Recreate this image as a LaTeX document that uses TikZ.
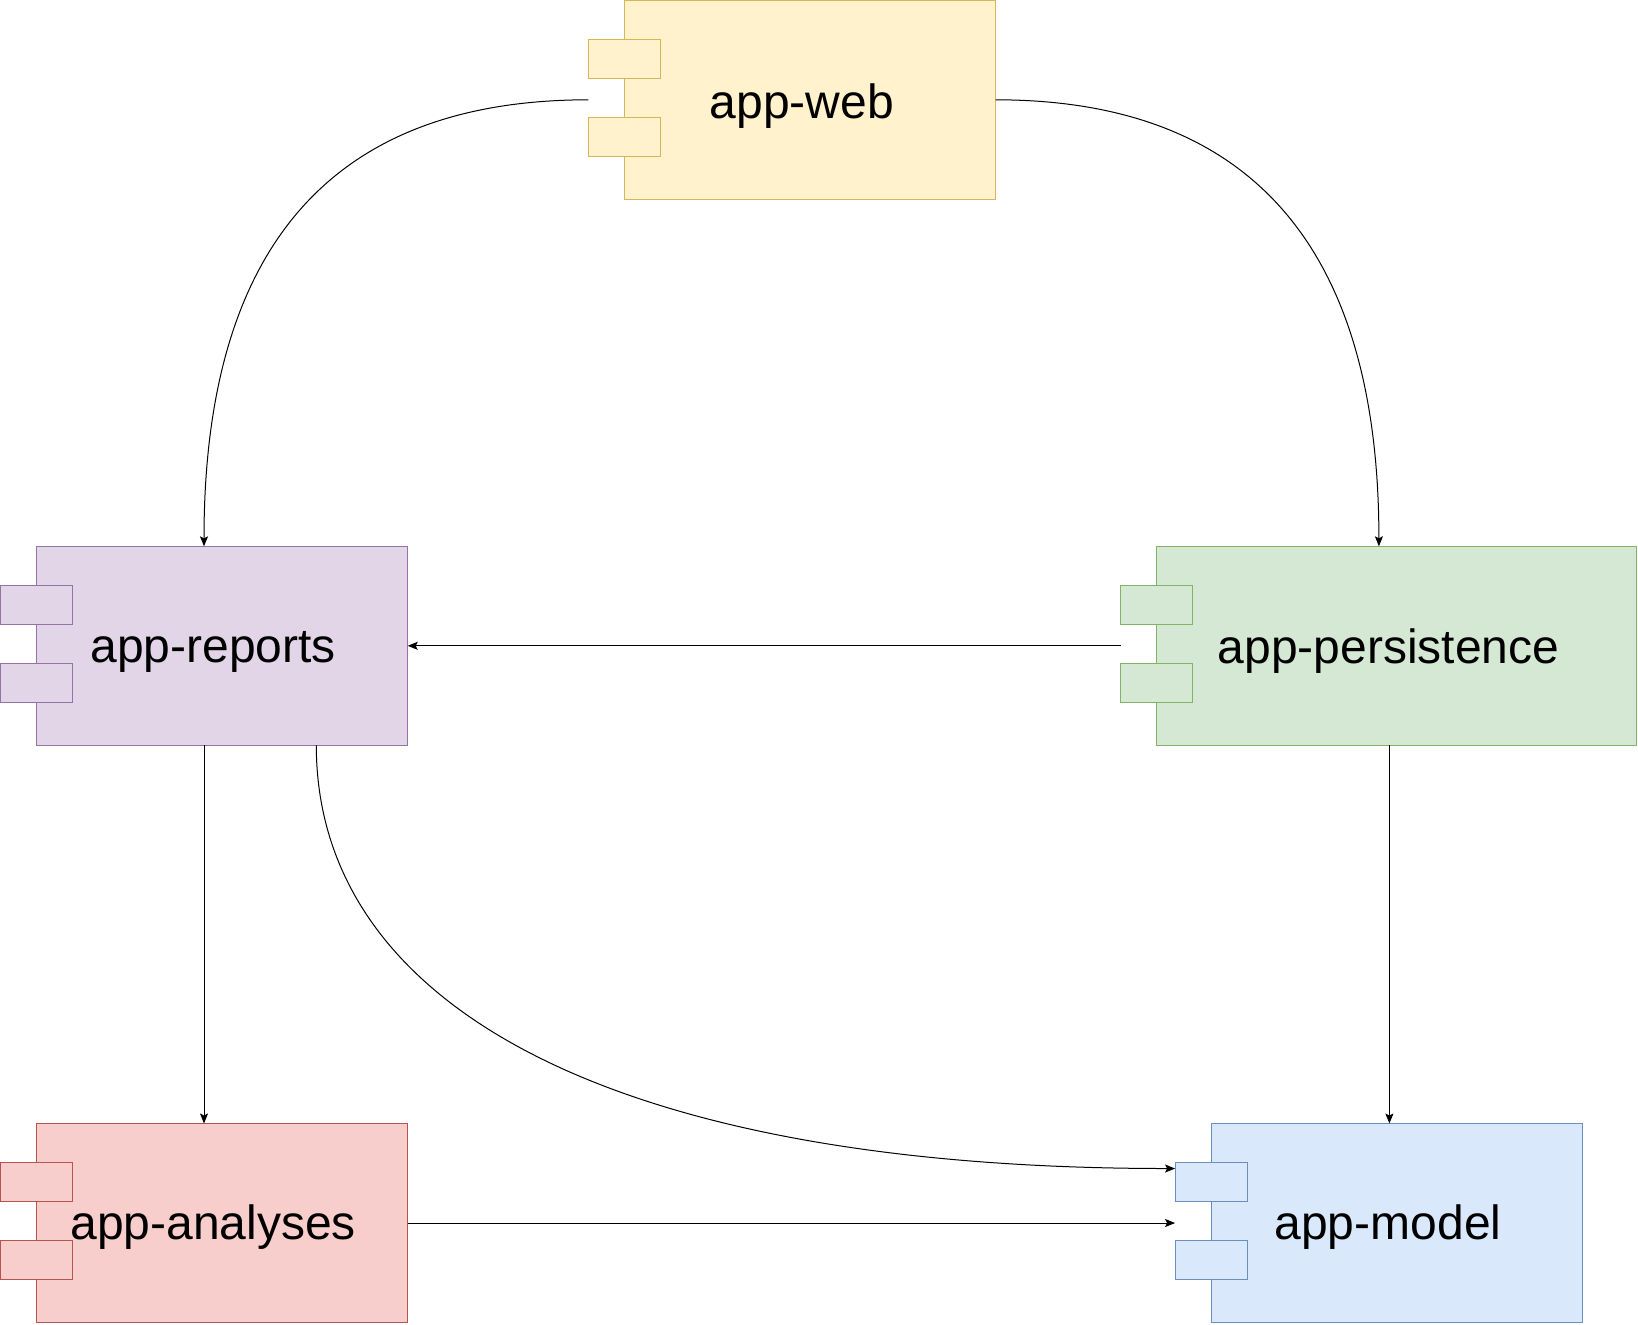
\documentclass[tikz,border=0pt]{standalone}
\usepackage{fontspec}
\usetikzlibrary{calc,arrows.meta}
\newfontfamily\lblfont{Liberation Sans}

\definecolor{webfill}{HTML}{FFF2CC}
\definecolor{webline}{HTML}{D6B656}
\definecolor{repfill}{HTML}{E1D5E7}
\definecolor{repline}{HTML}{9673A6}
\definecolor{perfill}{HTML}{D5E8D4}
\definecolor{perline}{HTML}{82B366}
\definecolor{anafill}{HTML}{F8CECC}
\definecolor{analine}{HTML}{B85450}
\definecolor{modfill}{HTML}{DAE8FC}
\definecolor{modline}{HTML}{6C8EBF}

\tikzset{
  comp/.style={rectangle, line width=0.5pt, inner sep=0pt, outer sep=0pt,
    minimum width=185.7pt, minimum height=99.5pt},
  port/.style={rectangle, line width=0.5pt, inner sep=0pt, outer sep=0pt,
    minimum width=36pt, minimum height=19.5pt},
  lbl/.style={anchor=base, inner sep=0pt, font=\lblfont\fontsize{24}{28}\selectfont},
  dep/.style={line width=0.5pt, -{Stealth[length=5pt,width=4pt,inset=1pt]}}
}

\begin{document}
\begin{tikzpicture}[x=0.5pt,y=0.5pt,yscale=-1,xscale=1]
\useasboundingbox (0,0) rectangle (1638,1324);

%Shape: Component [app-web]
\node[comp, draw=webline, fill=webfill] (web) at (810,99.8) {};
\node[port, draw=webline, fill=webfill] (web1) at ($(web.west)+(0,-41)$) {};
\node[port, draw=webline, fill=webfill] (web2) at ($(web.west)+(0,37)$) {};
%Shape: Component [app-reports]
\node[comp, draw=repline, fill=repfill] (rep) at (222,645.8) {};
\node[port, draw=repline, fill=repfill] (rep1) at ($(rep.west)+(0,-41)$) {};
\node[port, draw=repline, fill=repfill] (rep2) at ($(rep.west)+(0,37)$) {};
%Shape: Component [app-persistence]
\node[comp, draw=perline, fill=perfill, minimum width=240pt] (per) at (1396.9,645.8) {};
\node[port, draw=perline, fill=perfill] (per1) at ($(per.west)+(0,-41)$) {};
\node[port, draw=perline, fill=perfill] (per2) at ($(per.west)+(0,37)$) {};
%Shape: Component [app-analyses]
\node[comp, draw=analine, fill=anafill] (ana) at (222,1223) {};
\node[port, draw=analine, fill=anafill] (ana1) at ($(ana.west)+(0,-41)$) {};
\node[port, draw=analine, fill=anafill] (ana2) at ($(ana.west)+(0,37)$) {};
%Shape: Component [app-model]
\node[comp, draw=modline, fill=modfill] (mod) at (1396.8,1223) {};
\node[port, draw=modline, fill=modfill] (mod1) at ($(mod.west)+(0,-41)$) {};
\node[port, draw=modline, fill=modfill] (mod2) at ($(mod.west)+(0,37)$) {};

% Text Node
\node[lbl] (weblbl) at (801.7,118) {app-web};
% Text Node
\node[lbl] (replbl) at (213.3,662.7) {app-reports};
% Text Node
\node[lbl] (perlbl) at (1388.6,663) {app-persistence};
% Text Node
\node[lbl] (analbl) at (213.3,1239.3) {app-analyses};
% Text Node
\node[lbl] (modlbl) at (1388,1239.8) {app-model};

% connection points
\coordinate (reptop) at ($(rep.north)+(-18,0)$);
\coordinate (repbot) at ($(rep.south)+(-18,0)$);
\coordinate (repbot2) at ($(rep.south)+(94.3,0)$);
\coordinate (anatop) at ($(ana.north)+(-18,0)$);
\coordinate (pertop) at ($(per.north)+(-18,0)$);
\coordinate (perbot) at ($(per.south)+(-7.5,0)$);
\coordinate (modin) at ($(mod1.west)+(0,-13.5)$);

%Curved Lines
\draw[dep] (web1.west |- web.west) .. controls +(-268,0) and +(0,-286) .. (reptop);
\draw[dep] (web.east) .. controls +(266,0) and +(0,-286) .. (pertop);
\draw[dep] (repbot2) .. controls +(0,255) and +(-575,0) .. (modin);
%Straight Lines
\draw[dep] (per1.west |- per.west) -- (rep.east);
\draw[dep] (repbot) -- (anatop);
\draw[dep] (perbot) -- (perbot |- mod.north);
\draw[dep] (ana.east) -- (ana.east -| mod1.west);

\end{tikzpicture}
\end{document}
